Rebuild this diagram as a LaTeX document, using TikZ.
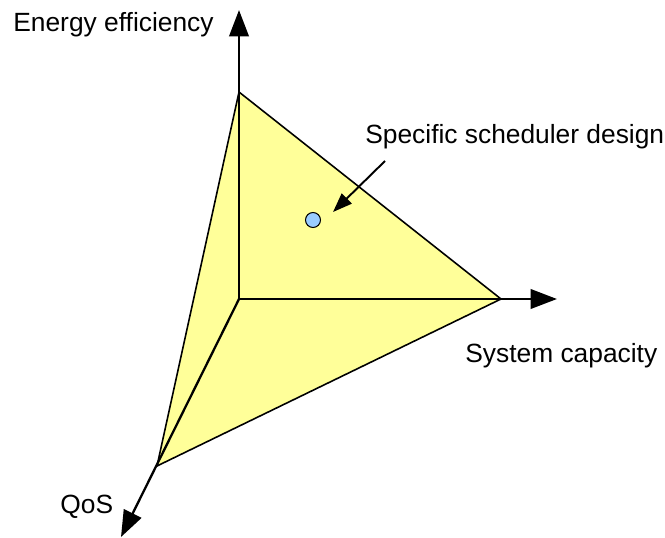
\documentclass[tikz,border=0pt]{standalone}
\usepackage{fontspec}
\setmainfont{Liberation Sans}
\usetikzlibrary{arrows.meta}
\definecolor{facefill}{RGB}{255,255,153}
\definecolor{pointblue}{RGB}{153,204,255}

\begin{document}
\begin{tikzpicture}[
  x=0.02cm, y=-0.02cm,
  font=\fontsize{15}{18}\selectfont,
  axisline/.style={-{Triangle[length=15pt,width=11pt]}, line width=1.6pt},
  rim/.style={line width=0.9pt, line join=miter},
  axislabel/.style={anchor=base west, inner sep=0pt},
  pointer/.style={-{Triangle[length=11pt,width=8pt]}, line width=1.1pt}
]
\useasboundingbox (0,0) rectangle (665,537);
\coordinate (origin) at (239,299);
\coordinate (ee)     at (239,92);
\coordinate (sc)     at (501,299);
\coordinate (qos)    at (157,466);
\coordinate (eetip)  at (239,10);
\coordinate (sctip)  at (557,299);
\coordinate (qostip) at (121,537);
\fill[facefill] (ee) -- (sc) -- (qos) -- cycle;
\draw[rim] (ee) -- (sc) -- (qos) -- cycle;
\draw[axisline] (origin) -- (eetip);
\draw[axisline] (origin) -- (sctip);
\draw[axisline, line width=1.3pt] (origin) -- (qostip);
\node[circle, draw, fill=pointblue, line width=0.6pt, inner sep=0pt, minimum size=0.3cm] (design) at (313,220) {};
\coordinate (ptrstart) at (385,161);
\coordinate (ptrtip)   at (333,212);
\draw[pointer] (ptrstart) -- (ptrtip);
\node[axislabel] (eelabel)  at (13,32)  {Energy efficiency};
\node[axislabel] (deslabel) at (365,143) {Specific scheduler design};
\node[axislabel] (sclabel)  at (465,362) {System capacity};
\node[axislabel] (qoslabel) at (60,513)  {QoS};
\end{tikzpicture}
\end{document}
